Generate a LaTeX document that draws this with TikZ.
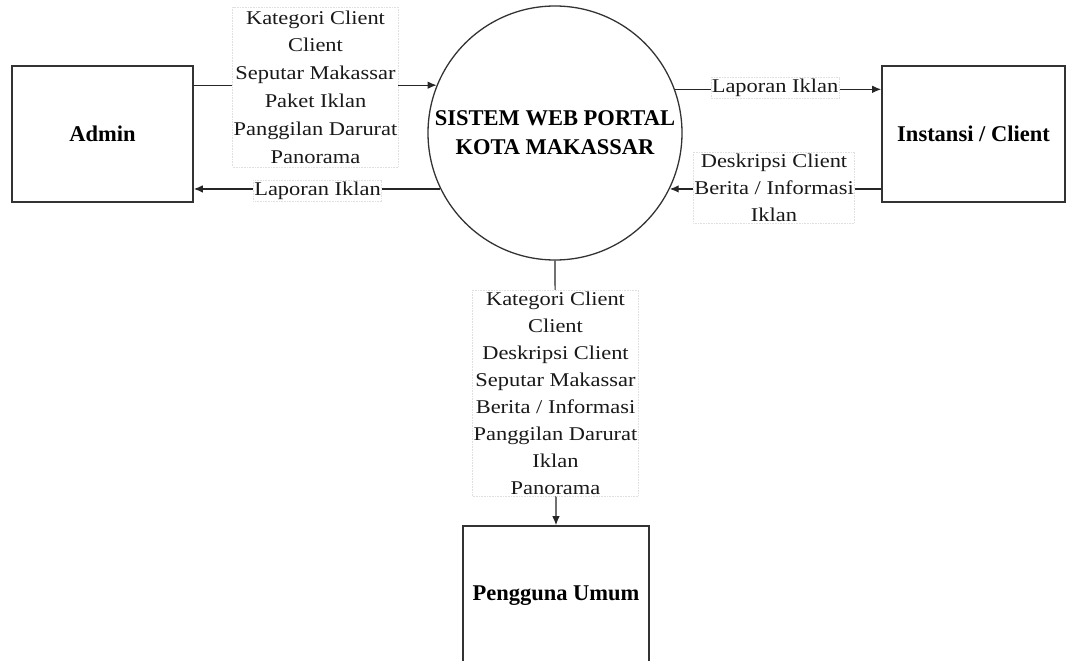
\documentclass[tikz,border=0pt]{standalone}
\usepackage{fontspec}
\setmainfont{Liberation Serif}
\newfontfamily\lblfont[FakeStretch=1.15]{Liberation Serif}
\usetikzlibrary{arrows.meta}
\tikzset{
  entity/.style={draw=black!80, line width=1.6pt, fill=white, inner sep=0pt,
    font=\fontsize{22.5}{27}\selectfont\bfseries},
  process/.style={circle, draw=black!80, line width=1.3pt, minimum size=254pt, inner sep=0pt,
    align=center, font=\fontsize{22.5}{29}\selectfont\bfseries},
  lbl/.style={draw=black!12, line width=0.6pt, densely dotted, fill=white, align=center,
    inner xsep=1pt, inner ysep=1.5pt, text=black!90,
    font=\lblfont\fontsize{19.5}{27}\selectfont},
  flow/.style={draw=black!85, line width=1.2pt, -{Latex[length=9pt,width=7.5pt]}},
}
\begin{document}
\begin{tikzpicture}[x=1pt,y=-1pt]
\useasboundingbox[fill=white] (0,0) rectangle (1066,661);
% entities
\node[entity, minimum width=181pt, minimum height=136pt] (admin) at (102.5,134) {Admin};
\node[entity, minimum width=183pt, minimum height=136pt] (inst) at (973.5,134) {Instansi / Client};
\node[entity, minimum width=186pt, minimum height=140pt] (user) at (556,596) {Pengguna Umum};
\node[process] (sys) at (555,133) {SISTEM WEB PORTAL\\KOTA MAKASSAR};
% connectors
\draw[flow] (admin.east |- sys.158.8) -- (sys.158.8);
\draw[flow] (sys.206.7) -- (admin.east |- sys.206.7);
\draw[flow] (sys.20.8) -- (inst.west |- sys.20.8);
\draw[flow] (inst.west |- sys.334.3) -- (sys.334.3);
\draw[flow] (sys.south) -- (user.north);
% labels
\node[lbl, inner ysep=3.5pt, font=\lblfont\fontsize{19.5}{27.8}\selectfont] (l1) at (315.5,87) {Kategori Client\\Client\\Seputar Makassar\\Paket Iklan\\Panggilan Darurat\\Panorama};
\node[lbl] (l2) at (317.5,191) {Laporan Iklan};
\node[lbl] (l3) at (775,88) {Laporan Iklan};
\node[lbl] (l4) at (774,187.5) {Deskripsi Client\\Berita / Informasi\\Iklan};
\node[lbl] (l5) at (555.5,393) {Kategori Client\\Client\\Deskripsi Client\\Seputar Makassar\\Berita / Informasi\\Panggilan Darurat\\Iklan\\Panorama};
\end{tikzpicture}
\end{document}
